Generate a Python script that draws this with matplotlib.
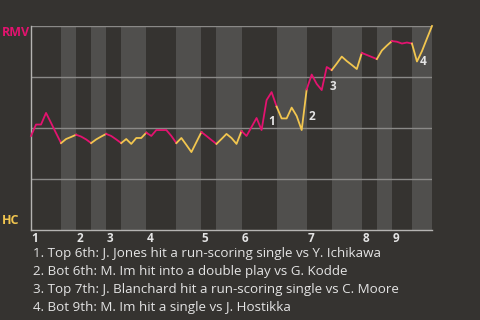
import matplotlib
matplotlib.use("Agg")
import matplotlib.pyplot as plt
import matplotlib.transforms as mtransforms

# win probability for RMV after each plate appearance
wp = [0.461, 0.517, 0.517, 0.574, 0.525, 0.475, 0.426, 0.446, 0.456, 0.467,
      0.458, 0.444, 0.426, 0.444, 0.458, 0.471, 0.461, 0.444, 0.426, 0.446,
      0.422, 0.451, 0.451, 0.477, 0.461, 0.490, 0.490, 0.490, 0.461, 0.426,
      0.451, 0.417, 0.382, 0.431, 0.480, 0.461, 0.441, 0.422, 0.446, 0.471,
      0.451, 0.422, 0.485, 0.461, 0.505, 0.549, 0.490, 0.637, 0.676, 0.605,
      0.547, 0.547, 0.600, 0.559, 0.490, 0.689, 0.762, 0.716, 0.686, 0.799,
      0.784, 0.816, 0.850, 0.828, 0.809, 0.789, 0.868, 0.858, 0.848, 0.838,
      0.880, 0.904, 0.926, 0.923, 0.914, 0.919, 0.914, 0.826, 0.877, 0.939,
      1.000]

# plate appearance index where each half inning starts (top 1st ... bot 9th, end)
half_starts = [0, 6, 9, 12, 15, 18, 23, 29, 34, 37, 42, 49, 55, 60, 66, 69, 72, 76, 80]
innings = ["1", "2", "3", "4", "5", "6", "7", "8", "9"]

events = [
    "1. Top 6th: J. Jones hit a run-scoring single vs Y. Ichikawa",
    "2. Bot 6th: M. Im hit into a double play vs G. Kodde",
    "3. Top 7th: J. Blanchard hit a run-scoring single vs C. Moore",
    "4. Bot 9th: M. Im hit a single vs J. Hostikka",
]
event_labels = ["1", "2", "3", "4"]
event_idx = [46, 54, 58, 77]
event_offsets = [(7, 9), (7, 14), (8, 4), (3, 0)]

team_top, team_bot = "RMV", "HC"

BG = "#353330"
BAND = "#504f4d"
PINK = "#e3136f"
YELLOW = "#f2c64f"
TEXT = "#e4e4e4"

plt.rcParams["font.family"] = ["Open Sans", "DejaVu Sans"]

fig = plt.figure(figsize=(4.8, 3.2), dpi=100, facecolor=BG)
ax = fig.add_axes([31 / 480, 90 / 320, 401 / 480, 204 / 320])
ax.set_facecolor(BG)
ax.set_xlim(0, len(wp) - 1)
ax.set_ylim(0, 1)

# bottom halves get the lighter band
for k in range(1, len(half_starts) - 1, 2):
    ax.axvspan(half_starts[k], half_starts[k + 1], color=BAND, lw=0, zorder=0)

for y in [0.25, 0.5, 0.75, 1.0]:
    ax.axhline(y, color="#8a8987", lw=1, zorder=1)

for k in range(len(half_starts) - 1):
    a, b = half_starts[k], half_starts[k + 1]
    ax.plot(range(a, b + 1), wp[a:b + 1], color=PINK if k % 2 == 0 else YELLOW,
            lw=1.3, zorder=3, clip_on=False)

for lab, i, (dx, dy) in zip(event_labels, event_idx, event_offsets):
    ax.annotate(lab, (i, wp[i]), xytext=(dx, dy), textcoords="offset pixels",
                ha="left", va="center", color=TEXT, fontsize=8.5,
                fontweight="bold", zorder=4)

for s in ["top", "right"]:
    ax.spines[s].set_visible(False)
for s in ["left", "bottom"]:
    ax.spines[s].set_color("#b5b4b2")
    ax.spines[s].set_linewidth(1)
ax.set_xticks([])
ax.set_yticks([])

trans = mtransforms.blended_transform_factory(ax.transData, ax.transAxes)
for n, lab in enumerate(innings):
    ax.text(half_starts[2 * n] + 0.1, -0.04, lab, transform=trans,
            ha="left", va="center", color=TEXT, fontsize=8.5, fontweight="bold")

fig.text(2 / 480, 1 - 33 / 320, team_top, color=PINK, fontsize=9,
         fontweight="bold", va="center", ha="left")
fig.text(2 / 480, 1 - 221 / 320, team_bot, color=YELLOW, fontsize=9,
         fontweight="bold", va="center", ha="left")

for j, line in enumerate(events):
    fig.text(33 / 480, 1 - (254 + 17.7 * j) / 320, line, color=TEXT,
             fontsize=9.6, va="center", ha="left")

fig.savefig("out.png", dpi=100, facecolor=BG)
